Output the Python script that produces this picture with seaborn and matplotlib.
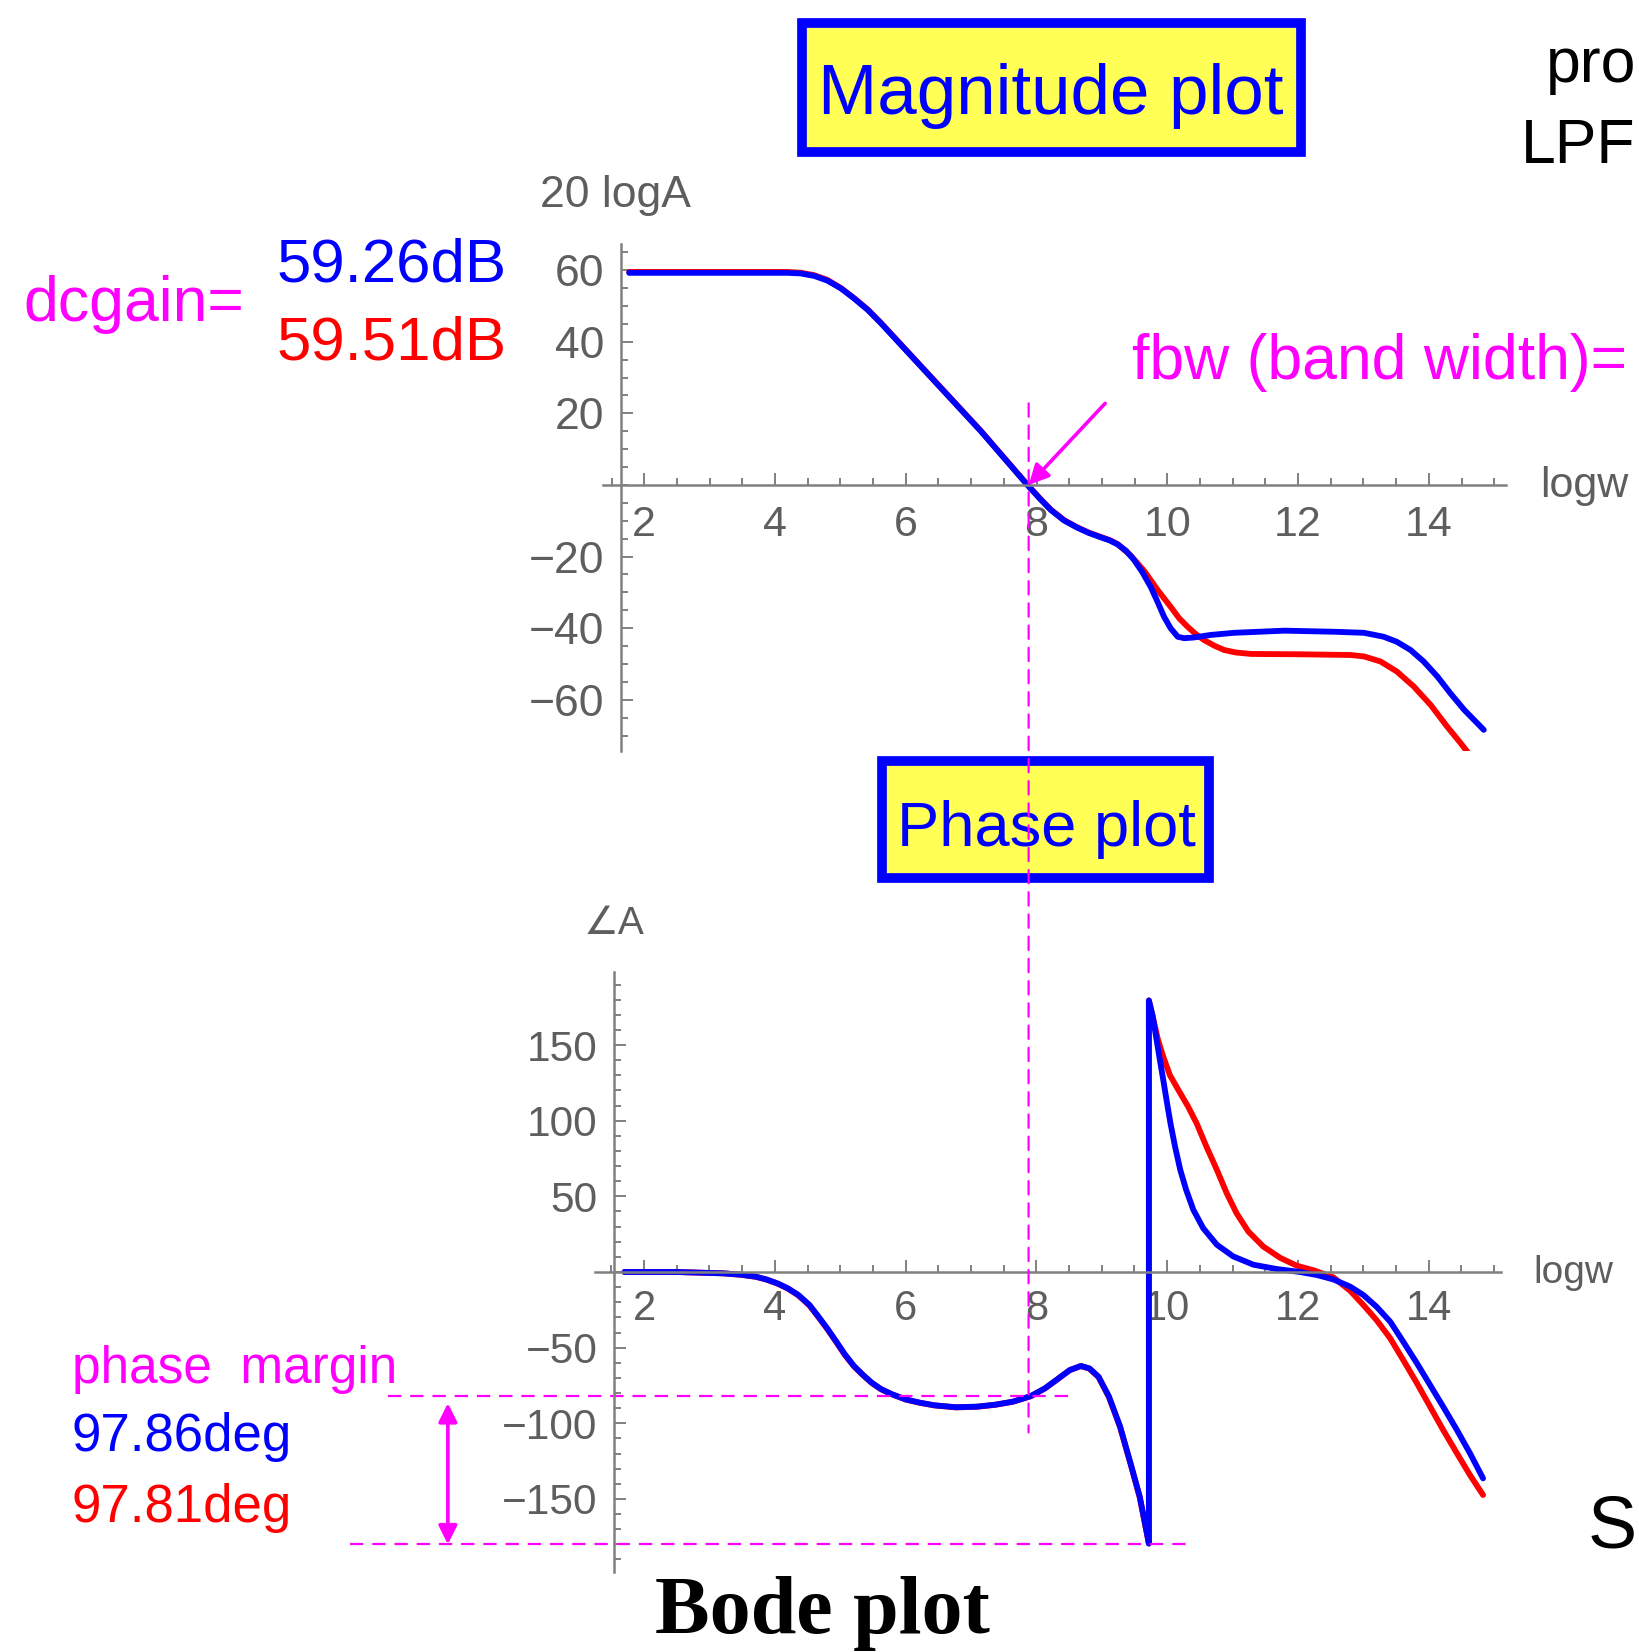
import numpy as np
import matplotlib
matplotlib.use('Agg')
import matplotlib.pyplot as plt
from matplotlib.patches import Rectangle, ConnectionPatch
import seaborn as sns

# ---- values (x axis = logw) ----
mag_blue_x = [1.77, 2.5, 3.3, 4.19, 4.39, 4.60, 4.80, 5.01, 5.21, 5.42, 5.62, 6.38, 7.15, 7.86,
              8.05, 8.22, 8.42, 8.62, 8.80, 8.98, 9.12, 9.24, 9.37, 9.49, 9.62, 9.75, 9.85, 9.95,
              10.05, 10.16, 10.26, 10.41, 10.66, 11.02, 11.79, 12.55, 13.01, 13.31, 13.51, 13.72,
              13.92, 14.13, 14.33, 14.54, 14.84]
mag_blue_y = [59.26, 59.26, 59.26, 59.26, 59.1, 58.4, 57.1, 54.9, 52.1, 48.9, 45.2, 30.2, 15.0, 0.0,
              -3.8, -7.0, -9.9, -11.9, -13.4, -14.6, -15.5, -16.6, -18.4, -20.9, -24.4, -28.6, -32.6, -36.8,
              -40.0, -42.4, -42.8, -42.6, -41.9, -41.3, -40.7, -41.0, -41.3, -42.4, -43.8, -46.1,
              -49.3, -53.5, -58.2, -62.8, -68.4]
mag_red_x = [1.77, 2.5, 3.3, 4.19, 4.39, 4.60, 4.80, 5.01, 5.21, 5.42, 5.62, 6.38, 7.15, 7.86,
             8.05, 8.22, 8.42, 8.62, 8.80, 8.98, 9.12, 9.24, 9.44, 9.65, 9.85, 10.05, 10.18, 10.31,
             10.44, 10.56, 10.72, 10.87, 11.05, 11.28, 12.04, 12.81, 13.01, 13.26, 13.51, 13.77,
             14.03, 14.28, 14.49, 14.66]
mag_red_y = [59.51, 59.51, 59.51, 59.5, 59.3, 58.6, 57.3, 55.0, 52.2, 49.0, 45.3, 30.3, 15.1, 0.1,
             -3.7, -6.9, -9.8, -11.8, -13.3, -14.5, -15.4, -16.5, -19.7, -24.1, -29.3, -34.0, -37.2, -39.6,
             -41.7, -43.3, -44.9, -46.1, -46.8, -47.2, -47.3, -47.5, -47.9, -49.3, -52.1, -56.3,
             -61.5, -67.5, -72.2, -76.2]

ph_blue_x = [1.70, 2.50, 3.22, 3.49, 3.71, 3.87, 4.04, 4.20, 4.36, 4.53, 4.66, 4.80, 4.94, 5.07,
             5.21, 5.35, 5.48, 5.62, 5.78, 6.00, 6.22, 6.44, 6.77, 7.09, 7.37, 7.64, 7.91, 8.13,
             8.32, 8.51, 8.68, 8.81, 8.95, 9.11, 9.28, 9.44, 9.58, 9.66, 9.72, 9.72, 9.78, 9.83,
             9.88, 9.94, 9.99, 10.05, 10.12, 10.20, 10.29, 10.40, 10.55, 10.76, 11.01, 11.32, 11.67,
             12.03, 12.29, 12.54, 12.80, 13.00, 13.20, 13.41, 13.61, 13.82, 14.02, 14.22, 14.43,
             14.63, 14.83]
ph_blue_y = [0.0, 0.0, -0.9, -1.8, -3.1, -4.9, -7.5, -10.8, -15.2, -21.8, -29.1, -37.2, -46.0, -54.4,
             -62.1, -68.1, -73.1, -77.3, -80.6, -84.2, -86.4, -88.1, -89.4, -89.0, -87.7, -85.7, -82.1, -76.9,
             -70.9, -64.8, -62.1, -63.7, -69.2, -82.4, -102.2, -126.5, -148.5, -166.1, -179.5, 179.5, 168.8, 155.5,
             142.3, 126.9, 113.7, 98.3, 82.9, 67.5, 54.3, 41.1, 29.0, 18.0, 10.3, 4.8, 2.0,
             0.0, -2.0, -4.9, -9.7, -15.2, -22.9, -32.8, -46.1, -60.4, -74.7, -89.0, -104.4,
             -119.8, -136.4]
ph_red_x = [1.70, 2.50, 3.22, 3.49, 3.71, 3.87, 4.04, 4.20, 4.36, 4.53, 4.66, 4.80, 4.94, 5.07,
            5.21, 5.35, 5.48, 5.62, 5.78, 6.00, 6.22, 6.44, 6.77, 7.09, 7.37, 7.64, 7.91, 8.13,
            8.32, 8.51, 8.68, 8.81, 8.95, 9.11, 9.28, 9.44, 9.58, 9.66, 9.72, 9.72, 9.79, 9.86,
            9.94, 10.04, 10.17, 10.32, 10.45, 10.60, 10.76, 10.91, 11.06, 11.24, 11.47, 11.73, 11.98,
            12.24, 12.54, 12.80, 13.00, 13.20, 13.41, 13.61, 13.82, 14.02, 14.22, 14.43, 14.63,
            14.83]
ph_red_y = [0.0, 0.0, -0.9, -1.9, -3.2, -5.0, -7.7, -11.0, -15.5, -22.2, -29.5, -37.6, -46.4, -54.8,
            -62.4, -68.3, -73.3, -77.4, -80.7, -84.3, -86.5, -88.2, -89.5, -89.1, -87.8, -85.8, -82.2, -77.0,
            -71.0, -64.9, -62.2, -63.9, -69.5, -82.8, -102.6, -127.0, -149.0, -166.5, -179.5, 179.5, 166.6, 153.4,
            142.3, 130.2, 120.4, 109.3, 98.3, 82.9, 67.5, 52.1, 38.9, 26.8, 16.8, 9.3, 4.2,
            1.1, -3.5, -12.5, -21.8, -31.7, -43.8, -58.2, -73.6, -89.0, -104.4, -119.8, -134.2,
            -147.4]

dcgain_blue, dcgain_red = 59.26, 59.51
pm_blue, pm_red = 97.86, 97.81
fbw = 7.88

x_ticks = [2, 4, 6, 8, 10, 12, 14]
mag_ticks = [60, 40, 20, -20, -40, -60]
ph_ticks = [150, 100, 50, -50, -100, -150]

BLUE, RED, MAGENTA = '#0000ff', '#ff0000', '#ff00ff'
AXIS_GRAY, LABEL_GRAY = '#808080', '#5e5e5e'
YELLOW = '#ffff55'
LW = 4.2

sns.set_theme(style='white')
plt.rcParams['font.family'] = ['Liberation Sans', 'DejaVu Sans']
plt.rcParams['axes.unicode_minus'] = True

W, H = 1639, 1652
fig = plt.figure(figsize=(W / 100, H / 100), dpi=100)
fig.patch.set_facecolor('white')


def px_box(x0, x1, y0, y1):
    # pixel rectangle (top-left origin) -> figure fraction [l, b, w, h]
    return [x0 / W, 1 - y1 / H, (x1 - x0) / W, (y1 - y0) / H]


def lab(v):
    return str(v).replace('-', '\u2212')


def style_axes(ax, yaxis_at, xlim, ylim, yticks, yminor, fs, xpad, ypad):
    ax.set_xlim(*xlim)
    ax.set_ylim(*ylim)
    ax.patch.set_alpha(0)
    ax.grid(False)
    ax.spines['left'].set_position(('data', yaxis_at))
    ax.spines['bottom'].set_position(('data', 0))
    for s in ['top', 'right']:
        ax.spines[s].set_visible(False)
    for s in ['left', 'bottom']:
        ax.spines[s].set_color(AXIS_GRAY)
        ax.spines[s].set_linewidth(1.8)
    ax.set_xticks(x_ticks, [lab(v) for v in x_ticks])
    ax.set_xticks(np.arange(1.5, 15.01, 0.5), minor=True)
    ax.set_yticks(yticks, [lab(v) for v in yticks])
    ax.set_yticks(yminor, minor=True)
    ax.tick_params(which='both', direction='in', color=AXIS_GRAY, width=1.4,
                   left=True, bottom=True)
    ax.tick_params(which='major', length=8.5)
    ax.tick_params(which='minor', length=5.0)
    ax.tick_params(axis='x', pad=xpad, labelsize=fs, labelcolor=LABEL_GRAY)
    ax.tick_params(axis='y', pad=ypad, labelsize=fs, labelcolor=LABEL_GRAY)
    ax.set_xlabel('')
    ax.set_ylabel('')


def curve(ax, xs, ys, color):
    sns.lineplot(x=xs, y=ys, ax=ax, color=color, lw=LW, sort=False,
                 estimator=None, errorbar=None, solid_joinstyle='round',
                 solid_capstyle='round')


# ---- magnitude plot ----
ax1 = fig.add_axes(px_box(603, 1506, 244.4, 750.6))
curve(ax1, mag_red_x, mag_red_y, RED)
curve(ax1, mag_blue_x, mag_blue_y, BLUE)
style_axes(ax1, 1.64, (1.37, 15.18), (-74.2, 67.2), mag_ticks,
           np.arange(-70, 66, 5), 32, 14.5, 12)
ax1.tick_params(axis='x', labelsize=31)
ax1.annotate('', xy=(fbw, 0), xytext=(9.05, 22.8),
             arrowprops=dict(arrowstyle='-|>', color=MAGENTA, lw=2.6,
                             mutation_scale=30, shrinkA=0, shrinkB=0),
             annotation_clip=False)

# ---- phase plot ----
ax2 = fig.add_axes(px_box(595, 1500.7, 971.7, 1572.3))
curve(ax2, ph_red_x, ph_red_y, RED)
curve(ax2, ph_blue_x, ph_blue_y, BLUE)
style_axes(ax2, 1.54, (1.25, 15.1), (-198.5, 198.5), ph_ticks,
           np.arange(-190, 191, 10), 30.5, 12, 12)
ax2.tick_params(axis='x', labelsize=30)

pm_line = -180 + pm_blue
dash = (0, (6, 4))
ax2.plot([-1.92, 8.50], [pm_line, pm_line], color=MAGENTA, lw=1.6, ls=dash, clip_on=False)
ax2.plot([-2.5, 10.30], [-180, -180], color=MAGENTA, lw=1.6, ls=dash, clip_on=False)
ax2.annotate('', xy=(-1.0, -180), xytext=(-1.0, pm_line),
             arrowprops=dict(arrowstyle='<|-|>', color=MAGENTA, lw=2.6,
                             mutation_scale=28, shrinkA=5, shrinkB=0),
             annotation_clip=False)

# vertical bandwidth marker spanning both plots
cp = ConnectionPatch(xyA=(fbw, 22.8), coordsA=ax1.transData,
                     xyB=(fbw, -106), coordsB=ax2.transData,
                     color=MAGENTA, lw=1.6, linestyle=dash, zorder=10)
fig.add_artist(cp)

# ---- title boxes ----
for (x0, x1, y0, y1) in [(801.5, 1300.5, 22.5, 151.5), (882, 1209, 761, 878)]:
    l, b, w, h = px_box(x0, x1, y0, y1)
    fig.add_artist(Rectangle((l, b), w, h, transform=fig.transFigure,
                             fc=YELLOW, ec=BLUE, lw=7, zorder=2))


def T(x, y, s, **kw):
    kw.setdefault('ha', 'left')
    kw.setdefault('va', 'baseline')
    fig.text(x / W, 1 - y / H, s, zorder=3, **kw)


T(1051, 114, 'Magnitude plot', size=51, color=BLUE, ha='center')
T(1046, 846, 'Phase plot', size=45.5, color=BLUE, ha='center')

T(540, 206.5, '20 logA', size=32, color=LABEL_GRAY)
T(1540, 497, 'logw', size=31, color=LABEL_GRAY)
T(1533, 1283, 'logw', size=28, color=LABEL_GRAY)
T(584, 934, '\u2220A', size=28, color=LABEL_GRAY)

T(23, 321, 'dcgain=', size=45, color=MAGENTA)
T(277, 282, f'{dcgain_blue:.2f}dB', size=44.5, color=BLUE)
T(277, 360, f'{dcgain_red:.2f}dB', size=44.5, color=RED)
T(1132, 379, 'fbw (band width)=', size=45, color=MAGENTA)

T(72, 1383, 'phase  margin', size=37, color=MAGENTA)
T(72, 1451.5, f'{pm_blue:.2f}deg', size=38, color=BLUE)
T(72, 1522, f'{pm_red:.2f}deg', size=38, color=RED)

T(1546, 82, 'pro', size=45, color='black')
T(1521, 163, 'LPF', size=45, color='black')
T(1588, 1548, 'S', size=53, color='black')

T(655, 1633, 'Bode plot', size=59, color='black', weight='bold', family='Liberation Serif')

fig.savefig('out.png', dpi=100)
